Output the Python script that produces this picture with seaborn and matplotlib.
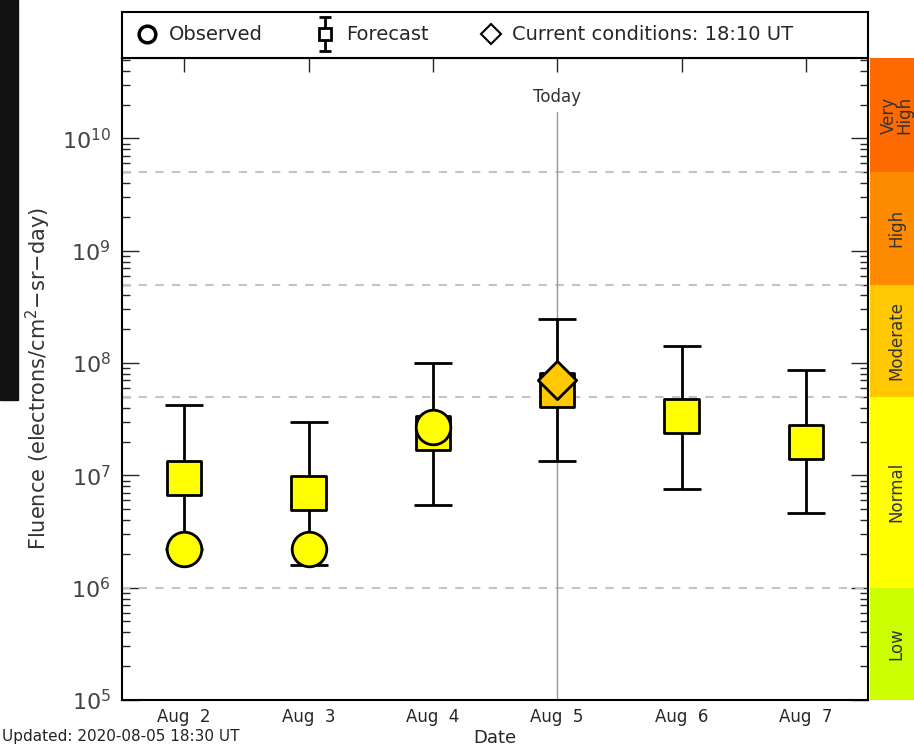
import numpy as np
import pandas as pd
import seaborn as sns
import matplotlib.pyplot as plt
from matplotlib.lines import Line2D
from matplotlib.patches import Rectangle
from matplotlib.path import Path
from matplotlib.legend_handler import HandlerTuple

# data
days = [2, 3, 4, 5, 6, 7]
day_labels = ['Aug  2', 'Aug  3', 'Aug  4', 'Aug  5', 'Aug  6', 'Aug  7']
fc_mid = [9.4e6, 6.9e6, 2.4e7, 5.8e7, 3.4e7, 2.0e7]
fc_low = [2.2e6, 1.6e6, 5.4e6, 1.33e7, 7.6e6, 4.6e6]
fc_high = [4.2e7, 3.0e7, 1.0e8, 2.45e8, 1.42e8, 8.6e7]
fc_colors = ['#FFFF00', '#FFFF00', '#FFFF00', '#FFC800', '#FFFF00', '#FFFF00']
obs_days = [2, 3, 4]
obs_vals = [2.2e6, 2.2e6, 2.7e7]
current_day = 5
current_val = 7.0e7

levels = ['Low', 'Normal', 'Moderate', 'High', 'Very\nHigh']
level_edges = [1e5, 1e6, 5e7, 5e8, 5e9, 5.2e10]
level_colors = ['#CCFF00', '#FFFF00', '#FFC800', '#FF8C00', '#FF6A00']
dash_levels = [1e6, 5e7, 5e8, 5e9]

sns.set_style('white')
plt.rcParams['font.family'] = ['DejaVu Sans']

fig = plt.figure(figsize=(9.14, 7.5), dpi=100)
ax = fig.add_axes([122 / 914, 50 / 750, 746 / 914, 642 / 750])
ax.set_yscale('log')
ax.set_ylim(level_edges[0], level_edges[-1])
ax.set_xlim(1.5, 7.5)

for lv in dash_levels:
    ax.axhline(lv, color='#C4C4C4', lw=1.5, ls=(0, (4, 4)), zorder=1)
ax.axvline(current_day, ymax=0.916, color='#999999', lw=1, zorder=1)
ax.text(current_day, 10 ** 10.37, 'Today', ha='center', va='center', fontsize=12, color='#333333')

fc = pd.DataFrame({'day': days, 'mid': fc_mid, 'low': fc_low, 'high': fc_high, 'color': fc_colors})
yerr = np.array([fc['mid'] - fc['low'], fc['high'] - fc['mid']])
ax.errorbar(fc['day'], fc['mid'], yerr=yerr, fmt='none', ecolor='black',
            elinewidth=2, capsize=13.5, capthick=2, zorder=2)
sns.scatterplot(data=fc, x='day', y='mid', marker='s', s=600, c=fc['color'],
                edgecolor='black', linewidth=2, ax=ax, zorder=3, legend=False)
obs = pd.DataFrame({'day': obs_days, 'val': obs_vals})
sns.scatterplot(data=obs, x='day', y='val', marker='o', s=620, color='#FFFF00',
                edgecolor='black', linewidth=2, ax=ax, zorder=4, legend=False)
ax.scatter([current_day], [current_val], marker='D', s=380, color='#FFC800',
           edgecolor='black', linewidth=2, zorder=5)

ax.set_xticks(days)
ax.set_xticklabels(day_labels, fontsize=12)
ax.set_xlabel('Date', fontsize=13, labelpad=2)
ax.set_ylabel('Fluence (electrons/cm$^2$\u2212sr\u2212day)', fontsize=15, color='#333333', labelpad=6)
ax.tick_params(axis='x', direction='in', length=10, width=1, pad=6, top=True)
ax.tick_params(axis='y', which='major', direction='in', length=12, width=1,
               labelsize=16, right=True, left=True, pad=8)
ax.tick_params(axis='y', which='minor', direction='in', length=6, width=1, right=True, left=True)
for lab in ax.get_yticklabels():
    lab.set_color('#444444')
for sp in ax.spines.values():
    sp.set_color('black')
    sp.set_linewidth(1.5)

# legend box above the plot
lax = fig.add_axes([122 / 914, 692 / 750, 746 / 914, 46 / 750])
lax.set_xticks([])
lax.set_yticks([])
for sp in lax.spines.values():
    sp.set_color('black')
    sp.set_linewidth(1.5)

# "I" shaped marker for the forecast error bar
ibar = Path([(0, -1), (0, 1), (-0.35, 1), (0.35, 1), (-0.35, -1), (0.35, -1)],
            [Path.MOVETO, Path.LINETO, Path.MOVETO, Path.LINETO, Path.MOVETO, Path.LINETO])
fc_handle = (Line2D([], [], marker=ibar, ls='none', mec='black', mew=2, ms=24),
             Line2D([], [], marker='s', ls='none', mfc='white', mec='black', mew=2, ms=8))
handles = [
    Line2D([], [], marker='o', ls='none', mfc='white', mec='black', mew=2.5, ms=12),
    fc_handle,
    Line2D([], [], marker='D', ls='none', mfc='white', mec='black', mew=1.5, ms=10),
]
lax.legend(handles, ['Observed', 'Forecast', 'Current conditions: 18:10 UT'],
           loc='center left', bbox_to_anchor=(0.0, 0.5), ncol=3, frameon=False,
           fontsize=14, handlelength=1.2, handletextpad=0.5, columnspacing=2.6,
           borderaxespad=0.3, handler_map={tuple: HandlerTuple(ndivide=1)})

# activity level band on the right
band = fig.add_axes([870 / 914, 50 / 750, 60 / 914, 642 / 750])
band.set_yscale('log')
band.set_ylim(level_edges[0], level_edges[-1])
band.set_xlim(0, 1)
for i, name in enumerate(levels):
    lo, hi = level_edges[i], level_edges[i + 1]
    band.axhspan(lo, hi, color=level_colors[i], lw=0)
    band.text(0.44, np.sqrt(lo * hi), name, rotation=90, ha='center', va='center',
              fontsize=12, color='#333333', linespacing=0.85)
band.axis('off')

fig.text(0.002, 0.012, 'Updated: 2020-08-05 18:30 UT', fontsize=11, color='#222222')
fig.patches.append(Rectangle((0, 350 / 750), 18 / 914, 400 / 750, transform=fig.transFigure,
                             color='#111111', zorder=0))

fig.savefig('out.png', dpi=100)
